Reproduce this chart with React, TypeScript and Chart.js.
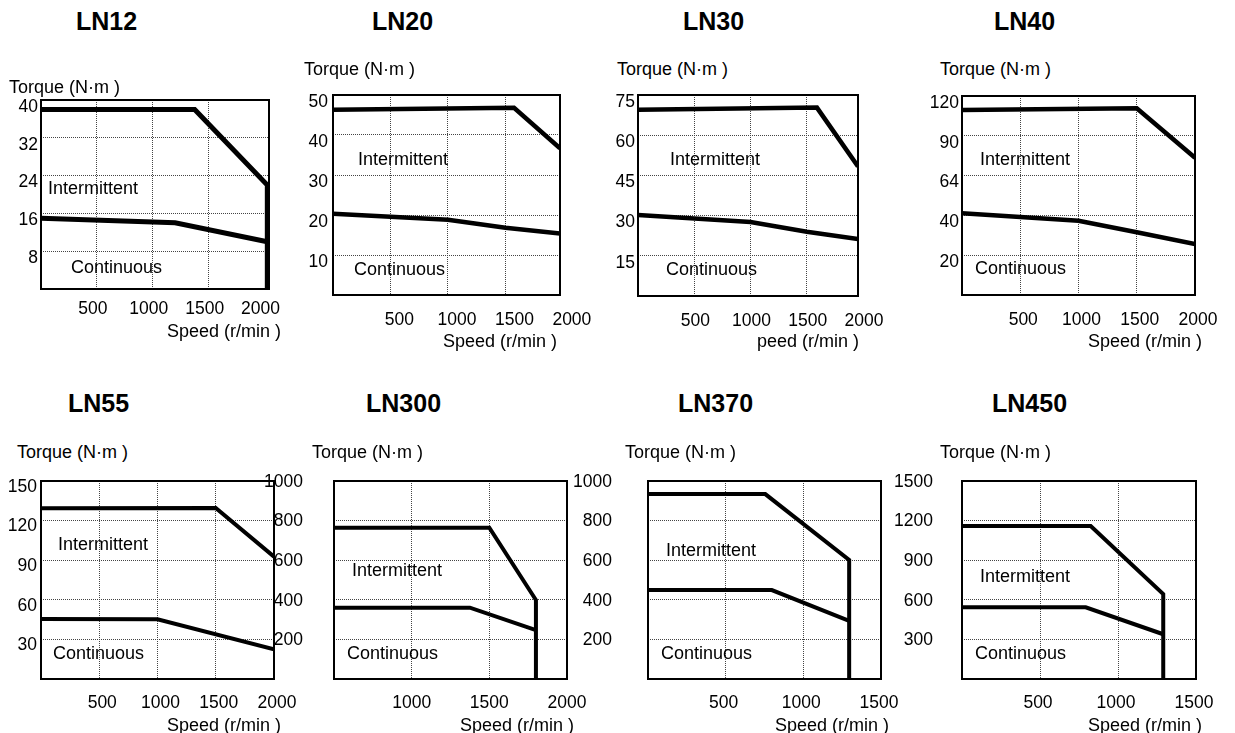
import React, { useEffect, useRef } from 'react';
import { Chart, registerables } from 'chart.js';

Chart.register(...registerables);

const FONT = '"Liberation Sans", Arial, Helvetica, sans-serif';

// ---------- LN12 ----------
const ln12SpeedInt = [0, 1375, 2025, 2025];
const ln12TorqueInt = [38, 38, 22, 0];
const ln12SpeedCont = [0, 1200, 2025];
const ln12TorqueCont = [15, 14, 10];
const ln12XTicks = [500, 1000, 1500, 2000];
const ln12YTicks = [0, 8, 16, 24, 32, 40];

// ---------- LN20 ----------
const ln20SpeedInt = [0, 1575, 1975];
const ln20TorqueInt = [46.3, 46.8, 36.7];
const ln20SpeedCont = [0, 1000, 1500, 1975];
const ln20TorqueCont = [20.3, 18.8, 16.8, 15.4];
const ln20XTicks = [500, 1000, 1500, 2000];
const ln20YTicks = [0, 10, 20, 30, 40, 50];

// ---------- LN30 ----------
const ln30SpeedInt = [0, 1590, 1955];
const ln30TorqueInt = [69.5, 70.3, 48.3];
const ln30SpeedCont = [0, 1000, 1500, 1955];
const ln30TorqueCont = [30.2, 27.6, 24.0, 21.3];
const ln30XTicks = [500, 1000, 1500, 2000];
const ln30YTicks = [0, 15, 30, 45, 60, 75];

// ---------- LN40 ----------
const ln40SpeedInt = [0, 1500, 2000];
const ln40TorqueInt = [111.6, 112.6, 82.8];
const ln40SpeedCont = [0, 1000, 1500, 2000];
const ln40TorqueCont = [49.3, 44.8, 37.8, 30.8];
const ln40XTicks = [500, 1000, 1500, 2000];
const ln40YTicks = [0, 24, 48, 72, 96, 120];
const ln40YLabels = ['', '20', '40', '64', '90', '120'];

// ---------- LN55 ----------
const ln55SpeedInt = [0, 1500, 2000];
const ln55TorqueInt = [129.3, 129.5, 92.7];
const ln55SpeedCont = [0, 1000, 2000];
const ln55TorqueCont = [45.5, 45.2, 22.5];
const ln55XTicks = [500, 1000, 1500, 2000];
const ln55YTicks = [0, 30, 60, 90, 120, 150];

// ---------- LN300 ----------
const ln300SpeedInt = [500, 1500, 1800, 1800];
const ln300TorqueInt = [764, 764, 399, 0];
const ln300SpeedCont = [500, 1375, 1800];
const ln300TorqueCont = [360, 360, 247];
const ln300XTicks = [1000, 1500, 2000];
const ln300YTicks = [0, 200, 400, 600, 800, 1000];

// ---------- LN370 ----------
const ln370SpeedInt = [0, 755, 1295, 1295];
const ln370TorqueInt = [934, 934, 601, 0];
const ln370SpeedCont = [0, 797, 1295];
const ln370TorqueCont = [449, 449, 294];
const ln370XTicks = [500, 1000, 1500];
const ln370YTicks = [0, 200, 400, 600, 800, 1000];

// ---------- LN450 ----------
const ln450SpeedInt = [0, 825, 1290, 1290];
const ln450TorqueInt = [1159, 1159, 644, 0];
const ln450SpeedCont = [0, 793, 1290];
const ln450TorqueCont = [543, 543, 339];
const ln450XTicks = [500, 1000, 1500];
const ln450YTicks = [0, 300, 600, 900, 1200, 1500];

const PT = 14;
const PR = 35;
const PB = 40;

type Panel = {
  title: string;
  box: [number, number, number, number];
  lw: number;
  xMin: number;
  xMax: number;
  xTicks: number[];
  yMax: number;
  yTicks: number[];
  yLabels?: string[];
  intX: number[];
  intY: number[];
  contX: number[];
  contY: number[];
  lineW: number;
  yPad: number;
  yOff: number;
  xPad: number;
  xOff: number;
  titlePos: [number, number];
  torquePos: [number, number];
  speedPos: [number, number];
  speedText: string;
  intPos: [number, number];
  contPos: [number, number];
};

const panels: Panel[] = [
  {
    title: 'LN12', box: [41, 100, 269, 289], lw: 45, xMin: 0, xMax: 2040, xTicks: ln12XTicks,
    yMax: 40, yTicks: ln12YTicks, intX: ln12SpeedInt, intY: ln12TorqueInt, contX: ln12SpeedCont, contY: ln12TorqueCont,
    lineW: 5, yPad: 3, yOff: 7, xPad: 10, xOff: -4,
    titlePos: [76, 9], torquePos: [9, 78], speedPos: [167, 322], speedText: 'Speed (r/min )',
    intPos: [48, 179], contPos: [71, 258],
  },
  {
    title: 'LN20', box: [333, 95, 560, 295], lw: 45, xMin: 0, xMax: 1975, xTicks: ln20XTicks,
    yMax: 50, yTicks: ln20YTicks, intX: ln20SpeedInt, intY: ln20TorqueInt, contX: ln20SpeedCont, contY: ln20TorqueCont,
    lineW: 4.5, yPad: 5, yOff: 7, xPad: 15, xOff: 9,
    titlePos: [372, 9], torquePos: [304, 60], speedPos: [443, 331.5], speedText: 'Speed (r/min )',
    intPos: [358, 150], contPos: [354, 260],
  },
  {
    title: 'LN30', box: [638, 95, 858, 296], lw: 45, xMin: 0, xMax: 1955, xTicks: ln30XTicks,
    yMax: 75, yTicks: ln30YTicks, intX: ln30SpeedInt, intY: ln30TorqueInt, contX: ln30SpeedCont, contY: ln30TorqueCont,
    lineW: 4.5, yPad: 3, yOff: 7, xPad: 14.5, xOff: 1,
    titlePos: [683, 9], torquePos: [617, 60], speedPos: [757, 331.5], speedText: 'peed (r/min )',
    intPos: [670, 150], contPos: [666, 260],
  },
  {
    title: 'LN40', box: [962, 96, 1195, 295], lw: 45, xMin: 0, xMax: 2000, xTicks: ln40XTicks,
    yMax: 120, yTicks: ln40YTicks, yLabels: ln40YLabels, intX: ln40SpeedInt, intY: ln40TorqueInt, contX: ln40SpeedCont, contY: ln40TorqueCont,
    lineW: 4.5, yPad: 3, yOff: 7, xPad: 15, xOff: 3,
    titlePos: [994, 9], torquePos: [940, 60], speedPos: [1088, 331.5], speedText: 'Speed (r/min )',
    intPos: [980, 150], contPos: [975, 259],
  },
  {
    title: 'LN55', box: [41, 481, 274, 679], lw: 45, xMin: 0, xMax: 2000, xTicks: ln55XTicks,
    yMax: 150, yTicks: ln55YTicks, intX: ln55SpeedInt, intY: ln55TorqueInt, contX: ln55SpeedCont, contY: ln55TorqueCont,
    lineW: 4, yPad: 4, yOff: 6, xPad: 14, xOff: 3,
    titlePos: [68, 391], torquePos: [17, 442.5], speedPos: [167, 716], speedText: 'Speed (r/min )',
    intPos: [58, 535], contPos: [53, 644],
  },
  {
    title: 'LN300', box: [334, 481, 567, 679], lw: 80, xMin: 500, xMax: 2000, xTicks: ln300XTicks,
    yMax: 1000, yTicks: ln300YTicks, intX: ln300SpeedInt, intY: ln300TorqueInt, contX: ln300SpeedCont, contY: ln300TorqueCont,
    lineW: 4, yPad: 31, yOff: 1, xPad: 14, xOff: 0,
    titlePos: [366, 391], torquePos: [312, 442.5], speedPos: [460, 716], speedText: 'Speed (r/min )',
    intPos: [352, 561], contPos: [347, 644],
  },
  {
    title: 'LN370', box: [648, 481, 881, 679], lw: 80, xMin: 0, xMax: 1500, xTicks: ln370XTicks,
    yMax: 1000, yTicks: ln370YTicks, intX: ln370SpeedInt, intY: ln370TorqueInt, contX: ln370SpeedCont, contY: ln370TorqueCont,
    lineW: 4, yPad: 36, yOff: 1, xPad: 14, xOff: -2,
    titlePos: [678, 391], torquePos: [625, 442.5], speedPos: [775, 716], speedText: 'Speed (r/min )',
    intPos: [666, 541], contPos: [661, 644],
  },
  {
    title: 'LN450', box: [962, 481, 1196, 679], lw: 75, xMin: 0, xMax: 1500, xTicks: ln450XTicks,
    yMax: 1500, yTicks: ln450YTicks, intX: ln450SpeedInt, intY: ln450TorqueInt, contX: ln450SpeedCont, contY: ln450TorqueCont,
    lineW: 4, yPad: 29, yOff: 1, xPad: 14, xOff: -2,
    titlePos: [992, 391], torquePos: [940, 442.5], speedPos: [1088, 716], speedText: 'Speed (r/min )',
    intPos: [980, 567], contPos: [975, 644],
  },
];

const framePlugin = {
  id: 'frame',
  beforeDatasetsDraw(chart: any) {
    const { ctx, chartArea: a } = chart;
    ctx.save();
    ctx.strokeStyle = '#000';
    ctx.lineWidth = 2;
    ctx.strokeRect(a.left, a.top, a.right - a.left, a.bottom - a.top);
    ctx.restore();
  },
};

const gridColor = (min: number, max: number) => (c: any) => {
  const v = c.tick ? c.tick.value : min;
  const eps = (max - min) * 0.02;
  return v > min + eps && v < max - eps ? '#444' : 'rgba(0,0,0,0)';
};

function PanelChart({ p }: { p: Panel }) {
  const ref = useRef<HTMLCanvasElement>(null);
  const W = p.box[2] - p.box[0] + p.lw + PR;
  const H = p.box[3] - p.box[1] + PT + PB;

  useEffect(() => {
    if (!ref.current) return;
    const toPts = (xs: number[], ys: number[]) => xs.map((x, i) => ({ x, y: ys[i] }));
    const lineStyle = {
      borderColor: '#000',
      borderWidth: p.lineW,
      pointRadius: 0,
      tension: 0,
      fill: false,
      borderJoinStyle: 'miter' as const,
    };
    const chart = new Chart(ref.current, {
      type: 'line',
      data: {
        datasets: [
          { label: 'Intermittent', data: toPts(p.intX, p.intY), ...lineStyle },
          { label: 'Continuous', data: toPts(p.contX, p.contY), ...lineStyle },
        ],
      },
      options: {
        responsive: false,
        maintainAspectRatio: false,
        animation: false,
        events: [],
        layout: { padding: { top: PT, right: PR, left: 0, bottom: 0 } },
        plugins: { legend: { display: false }, tooltip: { enabled: false } },
        scales: {
          x: {
            type: 'linear',
            min: p.xMin,
            max: p.xMax,
            afterBuildTicks: (s: any) => {
              s.ticks = p.xTicks.map((v) => ({ value: v }));
            },
            afterFit: (s: any) => {
              s.height = PB;
              s.paddingLeft = 0;
              s.paddingRight = 0;
              s.paddingTop = 0;
              s.paddingBottom = 0;
            },
            grid: { color: gridColor(p.xMin, p.xMax), drawTicks: false, lineWidth: 1 },
            border: { display: false, dash: [1, 1] },
            ticks: {
              autoSkip: false,
              maxRotation: 0,
              minRotation: 0,
              padding: p.xPad,
              labelOffset: p.xOff,
              color: '#000',
              font: { family: FONT, size: 17.5 },
              callback: (v: any) => String(v),
            },
          },
          y: {
            type: 'linear',
            min: 0,
            max: p.yMax,
            afterBuildTicks: (s: any) => {
              s.ticks = p.yTicks.map((v) => ({ value: v }));
            },
            afterFit: (s: any) => {
              s.width = p.lw;
              s.paddingLeft = 0;
              s.paddingRight = 0;
              s.paddingTop = 0;
              s.paddingBottom = 0;
            },
            grid: { color: gridColor(0, p.yMax), drawTicks: false, lineWidth: 1 },
            border: { display: false, dash: [1, 1] },
            ticks: {
              autoSkip: false,
              padding: p.yPad,
              labelOffset: p.yOff,
              color: '#000',
              font: { family: FONT, size: 17.5 },
              callback: (v: any, i: number) =>
                p.yLabels ? p.yLabels[i] : v === 0 ? '' : String(v),
            },
          },
        },
      } as any,
      plugins: [framePlugin],
    });
    return () => chart.destroy();
  }, []);

  return (
    <canvas
      ref={ref}
      width={W}
      height={H}
      style={{ position: 'absolute', left: p.box[0] - p.lw, top: p.box[1] - PT, width: W, height: H }}
    />
  );
}

function Txt({ x, y, size, bold, children }: { x: number; y: number; size: number; bold?: boolean; children: React.ReactNode }) {
  return (
    <div
      style={{
        position: 'absolute',
        left: x,
        top: y,
        fontFamily: FONT,
        fontSize: size,
        lineHeight: `${size}px`,
        fontWeight: bold ? 'bold' : 'normal',
        whiteSpace: 'nowrap',
        color: '#000',
      }}
    >
      {children}
    </div>
  );
}

export default function App() {
  return (
    <div
      style={{
        position: 'absolute',
        left: 0,
        top: 0,
        width: 1235,
        height: 733,
        overflow: 'hidden',
        background: '#fff',
      }}
    >
      {panels.map((p) => (
        <PanelChart key={p.title} p={p} />
      ))}
      {panels.map((p) => (
        <React.Fragment key={p.title + '-t'}>
          <Txt x={p.titlePos[0]} y={p.titlePos[1]} size={25} bold>{p.title}</Txt>
          <Txt x={p.torquePos[0]} y={p.torquePos[1]} size={18}>Torque (N·m )</Txt>
          <Txt x={p.speedPos[0]} y={p.speedPos[1]} size={18}>{p.speedText}</Txt>
          <Txt x={p.intPos[0]} y={p.intPos[1]} size={18}>Intermittent</Txt>
          <Txt x={p.contPos[0]} y={p.contPos[1]} size={18}>Continuous</Txt>
        </React.Fragment>
      ))}
    </div>
  );
}
